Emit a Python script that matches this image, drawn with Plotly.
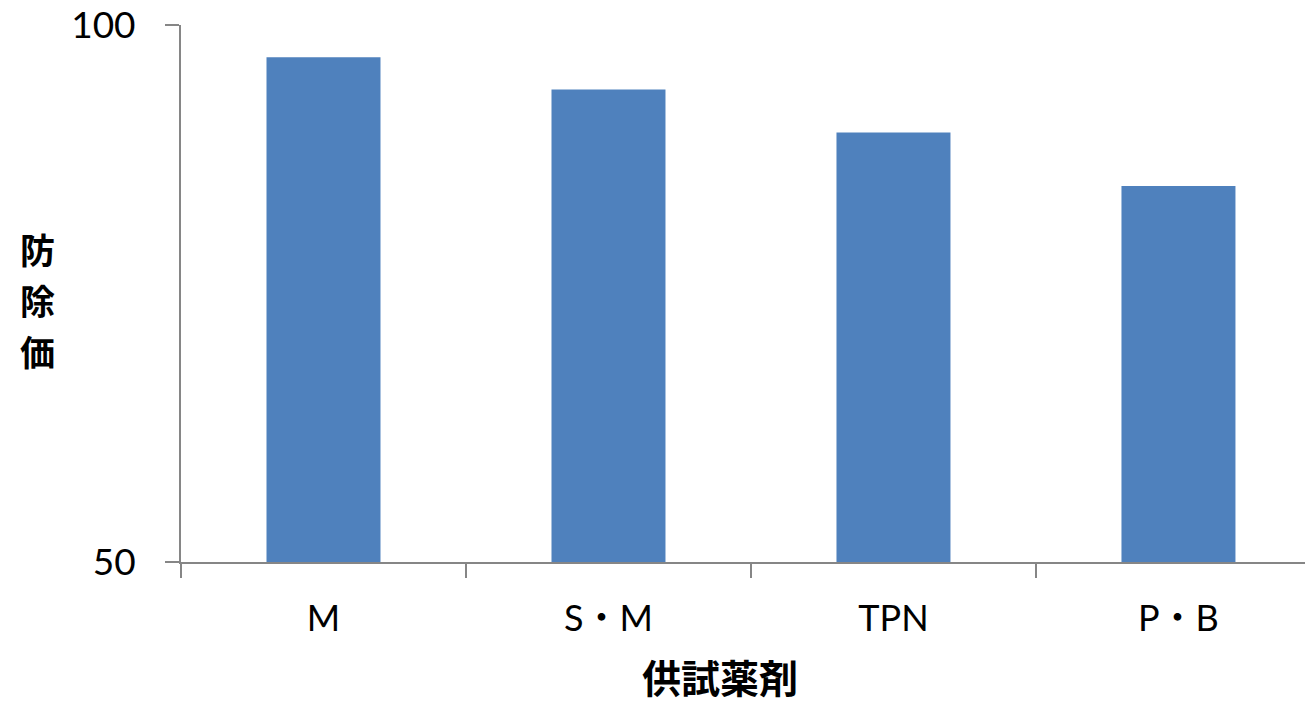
import plotly.graph_objects as go

# 供試薬剤ごとの防除価
categories = ["M", "S・M", "TPN", "P・B"]
values = [97, 94, 90, 85]
y_ticks = [50, 100]
y_title_chars = ["防", "除", "価"]

BAR_COLOR = "#4F81BD"
AXIS_COLOR = "#868686"
LATIN_FONT = "Lato, 'Noto Sans CJK JP', sans-serif"
CJK_FONT = "'Noto Sans CJK JP', sans-serif"

fig = go.Figure(
    go.Bar(
        x=categories,
        y=values,
        width=0.4,
        marker=dict(color=BAR_COLOR, line=dict(width=0)),
    )
)

fig.update_layout(
    width=1305,
    height=704,
    margin=dict(l=181, r=0, t=25, b=142),
    paper_bgcolor="white",
    plot_bgcolor="white",
    showlegend=False,
    font=dict(family=LATIN_FONT, color="black"),
)

fig.update_xaxes(
    type="category",
    range=[-0.5, 3.444],
    tickson="boundaries",
    ticks="outside",
    ticklen=14,
    tickwidth=2,
    tickcolor=AXIS_COLOR,
    showline=True,
    linecolor=AXIS_COLOR,
    linewidth=2,
    showgrid=False,
    tickfont=dict(size=36, family=LATIN_FONT),
    ticklabelstandoff=24,
)

fig.update_yaxes(
    range=[50, 100],
    tickvals=y_ticks,
    ticks="outside",
    ticklen=14,
    tickwidth=2,
    tickcolor=AXIS_COLOR,
    showline=True,
    linecolor=AXIS_COLOR,
    linewidth=2,
    showgrid=True,
    gridcolor=AXIS_COLOR,
    gridwidth=2,
    zeroline=False,
    tickfont=dict(size=37, family=LATIN_FONT),
    ticklabelstandoff=22,
)

# 横軸タイトル
fig.add_annotation(
    text="<b>供試薬剤</b>",
    xref="paper", yref="paper",
    x=0.4795, y=-0.212,
    xanchor="center", yanchor="middle",
    showarrow=False,
    font=dict(size=39, family=CJK_FONT, color="black"),
)

# 縦書きの縦軸タイトル（1文字ずつ配置）
for i, ch in enumerate(y_title_chars):
    fig.add_annotation(
        text=f"<b>{ch}</b>",
        xref="paper", yref="paper",
        x=-0.128, y=0.5847 - i * 0.095,
        xanchor="center", yanchor="middle",
        showarrow=False,
        font=dict(size=35, family=CJK_FONT, color="black"),
    )

fig.write_html("out.html")
